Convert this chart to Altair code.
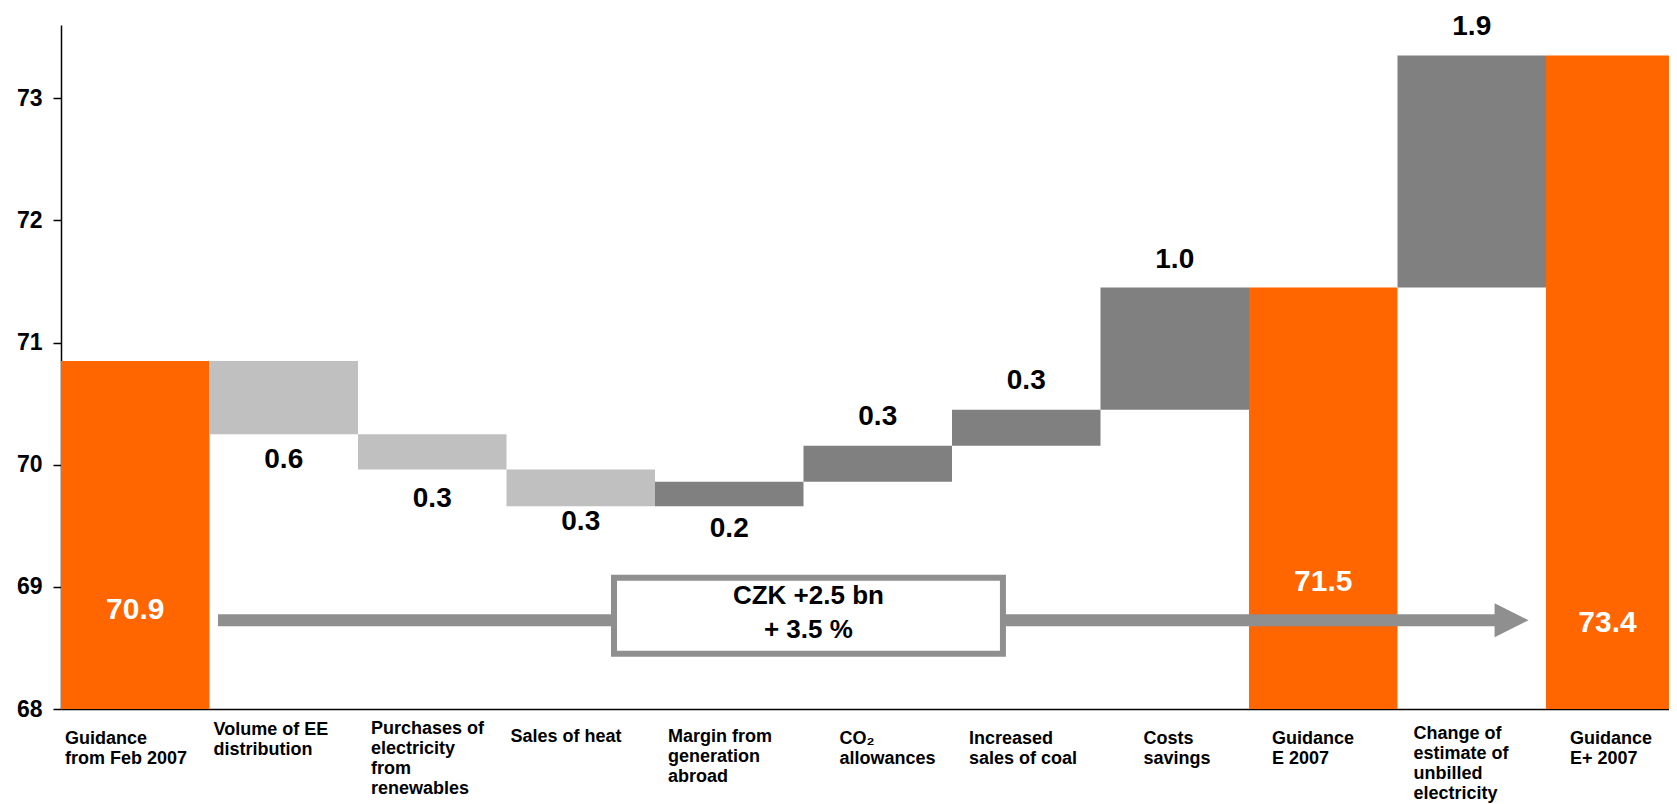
import altair as alt
import pandas as pd

# ---------------- data ----------------
categories = [
    "Guidance\nfrom Feb 2007",
    "Volume of EE\ndistribution",
    "Purchases of\nelectricity\nfrom\nrenewables",
    "Sales of heat",
    "Margin from\ngeneration\nabroad",
    "CO₂\nallowances",
    "Increased\nsales of coal",
    "Costs\nsavings",
    "Guidance\nE 2007",
    "Change of\nestimate of\nunbilled\nelectricity",
    "Guidance\nE+ 2007",
]
kinds = ["total", "delta", "delta", "delta", "delta", "delta", "delta", "delta", "total", "delta", "total"]
amounts = [70.85, -0.6, -0.29, -0.3, 0.2, 0.295, 0.295, 1.0, None, 1.9, None]
value_labels = ["70.9", "0.6", "0.3", "0.3", "0.2", "0.3", "0.3", "1.0", "71.5", "1.9", "73.4"]
box_text = "CZK +2.5 bn\n+ 3.5 %"
y_ticks = [68, 69, 70, 71, 72, 73]

# ---------------- layout / style ----------------
W, H = 1608, 684
YMIN, YMAX = 68, 73.6
BAND = 148.5
XMAX = W / BAND
PPU = H / (YMAX - YMIN)

ORANGE = "#FF6600"
LIGHT = "#C0C0C0"
DARK = "#808080"
ARROW = "#8F8F8F"
FONT = "Liberation Sans"

cat_label_dx = [4, 4, 13, 4, 13, 36, 17, 43, 23, 16, 24]      # px from bar left
cat_label_dy = [21, 12, 11, 19, 19, 21, 21, 21, 21, 16, 21]   # px below axis
delta_label_offset = [0, 26, 29, 16, 23, -29, -29, -28, 0, -29, 0]  # + below lower end, - above upper end
total_label_rise = [99, 0, 0, 0, 0, 0, 0, 0, 127, 0, 86]     # px above axis (label centre)

# ---------------- build tables ----------------
rows = []
level = None
for i, (cat, kind, amt) in enumerate(zip(categories, kinds, amounts)):
    x0, x1 = i, i + 1
    xc = (i + min(i + 1, XMAX)) / 2
    if kind == "total":
        if amt is not None:
            level = amt
        lo, hi = YMIN, level
        cls = "total"
        ly = YMIN + total_label_rise[i] / PPU
    else:
        a, b = level, level + amt
        level = b
        lo, hi = min(a, b), max(a, b)
        cls = "increase" if amt > 0 else "decrease"
        off = delta_label_offset[i]
        ly = lo - off / PPU if off > 0 else hi - off / PPU
    rows.append(dict(cat=cat, cls=cls, x0=x0, x1=x1, xc=xc, lo=lo, hi=hi,
                     label=value_labels[i], ly=ly,
                     cx=i + cat_label_dx[i] / BAND,
                     cy=YMIN - cat_label_dy[i] / PPU))
df = pd.DataFrame(rows)
df_tot = df[df.cls == "total"]
df_del = df[df.cls != "total"]

ann = pd.DataFrame([dict(sx0=1.057, sx1=9.67, sy=68.727, hx=9.768,
                         bx0=3.724, bx1=6.343, by0=68.453, by1=69.074,
                         tx=5.033, ty=68.927, t=box_text)])

xs = alt.Scale(domain=[0, XMAX], nice=False, zero=False)
ys = alt.Scale(domain=[YMIN, YMAX], nice=False, zero=False)
xaxis = alt.Axis(labels=False, ticks=False, grid=False, title=None,
                 domainColor="black", domainWidth=1.5)
yaxis = alt.Axis(values=y_ticks, format="d", title=None, grid=False,
                 domainColor="black", domainWidth=1.5, tickColor="black", tickWidth=1.5,
                 tickSize=8, labelPadding=11, labelFont=FONT, labelFontSize=23,
                 labelFontWeight="bold", labelColor="black")


def X(f):
    return alt.X(f, scale=xs, axis=xaxis)


def Y(f):
    return alt.Y(f, scale=ys, axis=yaxis)


bars = alt.Chart(df).mark_rect(clip=True).encode(
    x=X("x0:Q"), x2="x1:Q",
    y=Y("lo:Q"), y2="hi:Q",
    color=alt.Color("cls:N", scale=alt.Scale(domain=["total", "decrease", "increase"],
                                             range=[ORANGE, LIGHT, DARK]), legend=None),
)

shaft = alt.Chart(ann).mark_rule(strokeWidth=12, color=ARROW, strokeCap="butt").encode(
    x=X("sx0:Q"), x2="sx1:Q", y=Y("sy:Q"),
)
head = alt.Chart(ann).mark_point(shape="M -1 -1 L 1 0 L -1 1 Z", size=1156, filled=True,
                                 color=ARROW, opacity=1, strokeWidth=0).encode(
    x=X("hx:Q"), y=Y("sy:Q"),
)
box = alt.Chart(ann).mark_rect(fill="white", stroke=ARROW, strokeWidth=6).encode(
    x=X("bx0:Q"), x2="bx1:Q", y=Y("by0:Q"), y2="by1:Q",
)
box_lbl = alt.Chart(ann).mark_text(font=FONT, fontSize=26, fontWeight="bold", color="black",
                                   lineBreak="\n", lineHeight=34, baseline="middle",
                                   align="center").encode(
    x=X("tx:Q"), y=Y("ty:Q"), text="t:N",
)

tot_lbl = alt.Chart(df_tot).mark_text(font=FONT, fontSize=30, fontWeight="bold", color="white",
                                      baseline="middle", align="center").encode(
    x=X("xc:Q"), y=Y("ly:Q"), text="label:N",
)
del_lbl = alt.Chart(df_del).mark_text(font=FONT, fontSize=28, fontWeight="bold", color="black",
                                      baseline="middle", align="center").encode(
    x=X("xc:Q"), y=Y("ly:Q"), text="label:N",
)
cat_lbl = alt.Chart(df).mark_text(font=FONT, fontSize=18, fontWeight="bold", color="black",
                                  baseline="top", align="left", lineBreak="\n",
                                  lineHeight=20).encode(
    x=X("cx:Q"), y=Y("cy:Q"), text="cat:N",
)

chart = alt.layer(bars, shaft, head, box, box_lbl, tot_lbl, del_lbl, cat_lbl).properties(
    width=W, height=H,
    autosize=alt.AutoSizeParams(type="none"),
    padding={"left": 53, "top": 17, "right": 0, "bottom": 95},
    background="white",
).configure_view(strokeWidth=0)

chart.save("out.html", embed_options={"renderer": "svg", "actions": False})
